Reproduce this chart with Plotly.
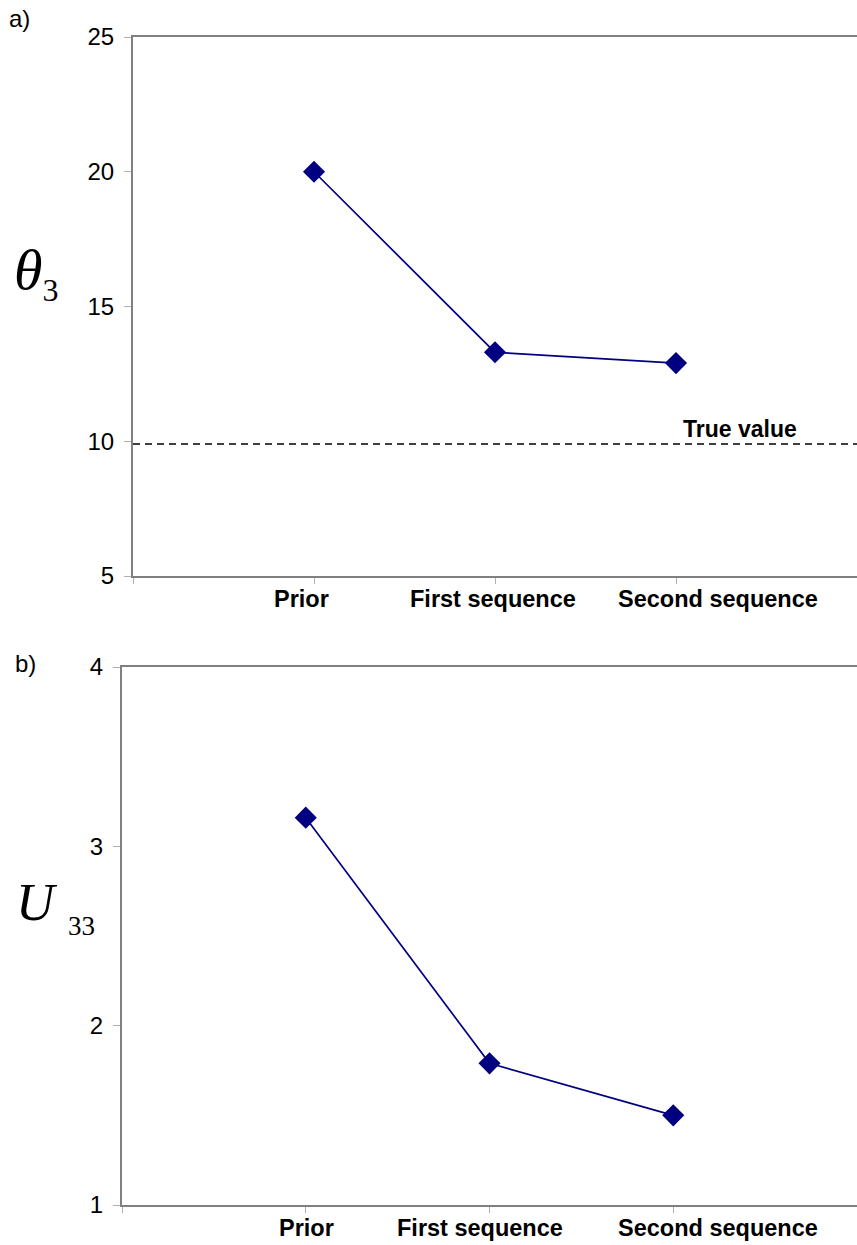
import plotly.graph_objects as go

# ---- data ----
categories = ["Prior", "First sequence", "Second sequence"]
theta3_values = [20.0, 13.3, 12.9]
u33_values = [3.16, 1.79, 1.50]
true_theta3 = 9.9
theta3_ticks = [5, 10, 15, 20, 25]
u33_ticks = [1, 2, 3, 4]

W, H = 857, 1245
def px(x):
    return x / W
def py(y):
    return 1 - y / H

NAVY = "#000080"
AXIS = "#808080"
TICK = "#b0b0b0"
SANS = "Liberation Sans, Arial, sans-serif"
SERIF = "Liberation Serif, Times New Roman, serif"

xpos = list(range(1, len(categories) + 1))

fig = go.Figure()

fig.add_trace(go.Scatter(
    x=xpos, y=theta3_values, mode="lines+markers",
    line=dict(color=NAVY, width=1.7),
    marker=dict(symbol="diamond", size=17, color=NAVY),
    xaxis="x", yaxis="y", showlegend=False, hoverinfo="skip"))
fig.add_trace(go.Scatter(
    x=xpos, y=u33_values, mode="lines+markers",
    line=dict(color=NAVY, width=1.7),
    marker=dict(symbol="diamond", size=17, color=NAVY),
    xaxis="x2", yaxis="y2", showlegend=False, hoverinfo="skip"))

xcommon = dict(range=[0, len(categories) + 1], tickvals=list(range(0, len(categories) + 2)),
               showticklabels=False, ticks="outside", ticklen=6, tickcolor=TICK,
               showline=True, linecolor=AXIS, linewidth=2, mirror=True,
               showgrid=False, zeroline=False, fixedrange=True, automargin=False)
ycommon = dict(ticks="outside", ticklen=7, tickcolor=TICK, tickwidth=1,
               showline=True, linecolor=AXIS, linewidth=2,
               showgrid=False, zeroline=False, automargin=False,
               tickfont=dict(family=SANS, size=24, color="black"),
               ticklabelstandoff=5)

fig.update_layout(
    template="none",
    width=W, height=H, margin=dict(l=0, r=0, t=0, b=0, autoexpand=False),
    paper_bgcolor="white", plot_bgcolor="white",
    xaxis=dict(domain=[px(133), 1], anchor="y", **xcommon),
    yaxis=dict(domain=[py(576), py(37)], anchor="x", range=[theta3_ticks[0], theta3_ticks[-1]],
               tickvals=theta3_ticks, **ycommon),
    xaxis2=dict(domain=[px(122), 1], anchor="y2", **xcommon),
    yaxis2=dict(domain=[py(1205), py(667)], anchor="x2", range=[u33_ticks[0], u33_ticks[-1]],
                tickvals=u33_ticks, **ycommon),
)

# true value dashed line
fig.add_shape(type="line", xref="x domain", yref="y", x0=0, x1=1,
              y0=true_theta3, y1=true_theta3,
              line=dict(color="black", width=1.5, dash="7px,5px"))
fig.add_annotation(xref="x", yref="y", x=xpos[-1], y=true_theta3, xanchor="left", yanchor="bottom",
                   xshift=5, yshift=0, text="<b>True value</b>", showarrow=False,
                   font=dict(family=SANS, size=23, color="black"))

# category labels
shifts_top = [-13, -2, 42]
shifts_bot = [1, -10, 45]
for xa, ya, shifts in [("x", "y", shifts_top), ("x2", "y2", shifts_bot)]:
    for i, c in enumerate(categories):
        fig.add_annotation(xref=xa, yref=ya + " domain", x=xpos[i], y=0,
                           xanchor="center", yanchor="top", xshift=shifts[i], yshift=-8,
                           text="<b>" + c + "</b>", showarrow=False,
                           font=dict(family=SANS, size=23.5, color="black"))

# panel letters
fig.add_annotation(xref="paper", yref="paper", x=px(7), y=py(3), xanchor="left", yanchor="top",
                   text="a)", showarrow=False, font=dict(family=SANS, size=24, color="black"))
fig.add_annotation(xref="paper", yref="paper", x=px(13), y=py(648), xanchor="left", yanchor="top",
                   text="b)", showarrow=False, font=dict(family=SANS, size=24, color="black"))

# axis titles
fig.add_annotation(xref="paper", yref="paper", x=px(12), y=py(272), xanchor="left", yanchor="middle",
                   text="<i>θ</i><sub><span style='font-size:32px'>3</span></sub>", showarrow=False,
                   font=dict(family=SERIF, size=58, color="black"))
fig.add_annotation(xref="paper", yref="paper", x=px(14), y=py(902), xanchor="left", yanchor="middle",
                   text="<i>U</i>", showarrow=False, font=dict(family=SERIF, size=53, color="black"))
fig.add_annotation(xref="paper", yref="paper", x=px(66), y=py(926), xanchor="left", yanchor="middle",
                   text="33", showarrow=False, font=dict(family=SERIF, size=27, color="black"))

fig.write_html("out.html")
